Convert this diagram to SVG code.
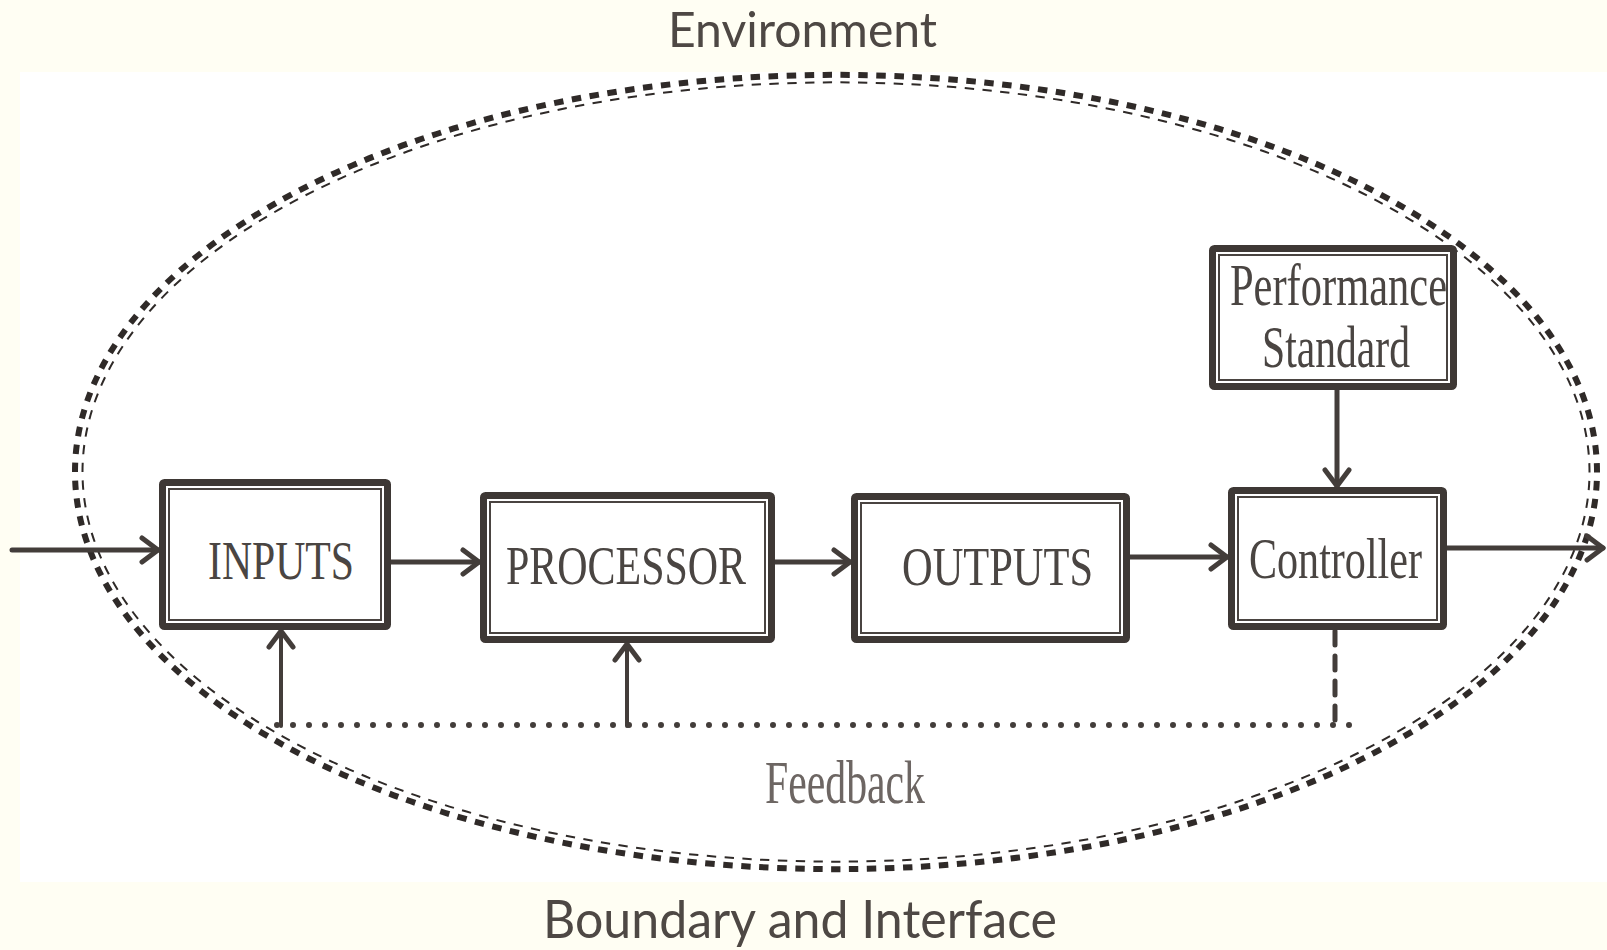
<svg xmlns="http://www.w3.org/2000/svg" width="1607" height="950" viewBox="0 0 1607 950">
  <style>
    .box-outer { fill: #ffffff; stroke: #3e3835; stroke-width: 7; }
    .box-inner { fill: none; stroke: #4a4441; stroke-width: 2; }
    .label { font-family: "Liberation Serif", "Times New Roman", serif; fill: #4a4542; }
    .title { font-family: Lato, "Open Sans", sans-serif; fill: #4e4844; }
    .conn { fill: none; stroke: #433d3a; stroke-width: 5; stroke-linecap: round; }
    .thin { fill: none; stroke: #433d3a; stroke-width: 4; stroke-linecap: round; }
  </style>
  <defs>
    <marker id="chev" markerUnits="userSpaceOnUse" viewBox="-24 -16 28 32" refX="0" refY="0" markerWidth="28" markerHeight="32" orient="auto" overflow="visible">
      <path d="M -16 -12 L 0 0 L -16 12" fill="none" stroke="#433d3a" stroke-width="5" stroke-linecap="round" stroke-linejoin="round"/>
    </marker>
  </defs>

  <!-- background -->
  <rect x="0" y="0" width="1607" height="950" fill="#fffef3"/>
  <rect x="20" y="72" width="1587" height="810" fill="#ffffff"/>

  <!-- boundary ellipse (double dashed) -->
  <g id="boundary">
    <path d="M 75 472 A 761 397 0 1 1 1597 472 A 761 397 0 1 1 75 472 Z" pathLength="414" fill="none" stroke="#2f2a28" stroke-width="6" stroke-dasharray="1.05 0.95"/>
    <path d="M 82.5 472 A 753.5 389.5 0 1 1 1589.5 472 A 753.5 389.5 0 1 1 82.5 472 Z" pathLength="414" fill="none" stroke="#2f2a28" stroke-width="2" stroke-dasharray="1.05 0.95"/>
  </g>

  <!-- titles -->
  <text id="environment" class="title" x="668" y="47" font-size="49" textLength="269" lengthAdjust="spacingAndGlyphs">Environment</text>
  <text id="boundary-label" class="title" x="543" y="938" font-size="52" textLength="514" lengthAdjust="spacingAndGlyphs">Boundary and Interface</text>

  <!-- connectors -->
  <g id="connectors">
    <path class="conn" d="M 12 550 H 158" marker-end="url(#chev)"/>
    <path class="conn" d="M 391 562 H 479" marker-end="url(#chev)"/>
    <path class="conn" d="M 775 562 H 850" marker-end="url(#chev)"/>
    <path class="conn" d="M 1130 557 H 1227" marker-end="url(#chev)"/>
    <path class="conn" d="M 1447 548 H 1603" marker-end="url(#chev)"/>
    <path class="conn" d="M 1337 390 V 486" marker-end="url(#chev)"/>
    <path class="thin" d="M 281 726 V 631" marker-end="url(#chev)"/>
    <path class="thin" d="M 627 726 V 644" marker-end="url(#chev)"/>
    <path d="M 1335 631 V 722" fill="none" stroke="#433d3a" stroke-width="5" stroke-linecap="round" stroke-dasharray="14 11"/>
    <path d="M 277 725 H 1357" fill="none" stroke="#433d3a" stroke-width="6" stroke-linecap="round" stroke-dasharray="0 16"/>
  </g>

  <!-- nodes -->
  <g id="inputs">
    <rect class="box-outer" x="162.5" y="482.5" width="225" height="144" rx="2"/>
    <rect class="box-inner" x="169" y="489" width="212" height="131"/>
    <text class="label" x="208" y="579" font-size="55" textLength="146" lengthAdjust="spacingAndGlyphs">INPUTS</text>
  </g>
  <g id="processor">
    <rect class="box-outer" x="483.5" y="495.5" width="288" height="144" rx="2"/>
    <rect class="box-inner" x="490" y="502" width="275" height="131"/>
    <text class="label" x="506" y="584" font-size="55" textLength="240" lengthAdjust="spacingAndGlyphs">PROCESSOR</text>
  </g>
  <g id="outputs">
    <rect class="box-outer" x="854.5" y="496.5" width="272" height="143" rx="2"/>
    <rect class="box-inner" x="861" y="503" width="259" height="130"/>
    <text class="label" x="902" y="585" font-size="55" textLength="191" lengthAdjust="spacingAndGlyphs">OUTPUTS</text>
  </g>
  <g id="controller">
    <rect class="box-outer" x="1231.5" y="490.5" width="212" height="136" rx="2"/>
    <rect class="box-inner" x="1238" y="497" width="199" height="123"/>
    <text class="label" x="1249" y="578" font-size="56" textLength="173" lengthAdjust="spacingAndGlyphs">Controller</text>
  </g>
  <g id="performance-standard">
    <rect class="box-outer" x="1212.5" y="248.5" width="241" height="138" rx="2"/>
    <rect class="box-inner" x="1219" y="255" width="228" height="125"/>
    <text class="label" x="1230" y="305" font-size="60" textLength="217" lengthAdjust="spacingAndGlyphs">Performance</text>
    <text class="label" x="1262" y="367" font-size="60" textLength="148" lengthAdjust="spacingAndGlyphs">Standard</text>
  </g>
  <g id="feedback">
    <text class="label" x="765" y="803" font-size="62" style="fill:#6d6663" textLength="160" lengthAdjust="spacingAndGlyphs">Feedback</text>
  </g>
</svg>
